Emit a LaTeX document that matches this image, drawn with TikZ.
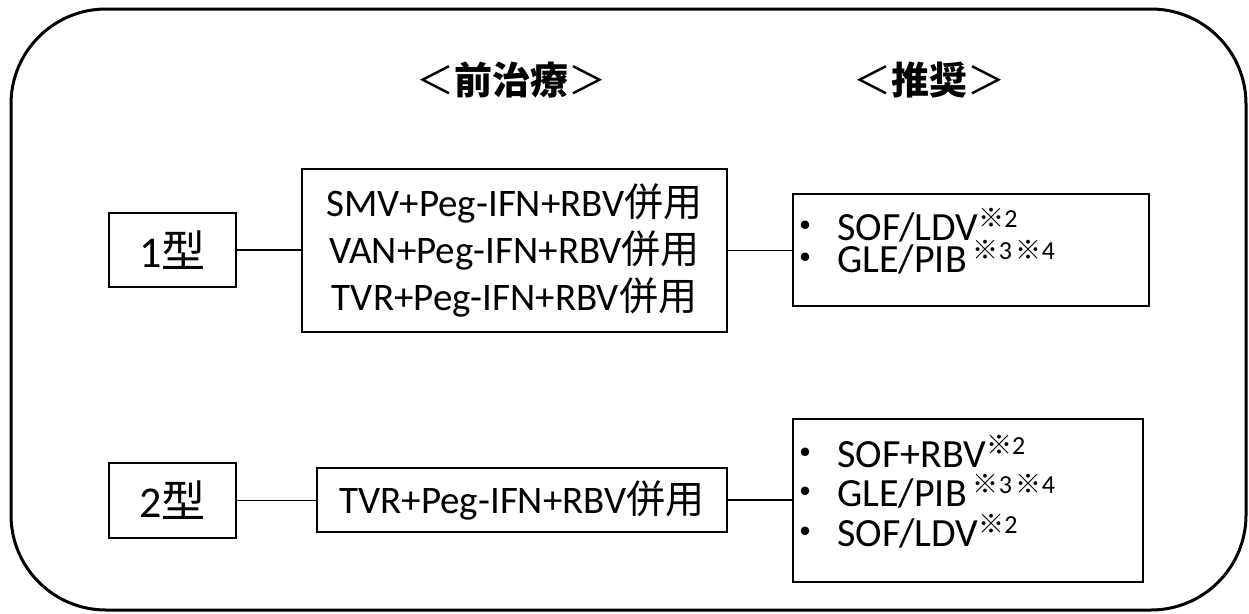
\documentclass[tikz,border=0pt]{standalone}
\usepackage{fontspec}
\setmainfont{Carlito}
\newfontfamily\jp{Noto Sans CJK JP}
\newcommand{\kome}[1]{\raisebox{13pt}{\fontsize{26}{26}\selectfont{\jp ※}#1}}
\newcommand{\bul}{\hspace*{-7pt}{\jp ・}\hspace{12pt}}
\begin{document}
\begin{tikzpicture}[x=1pt,y=-1pt,
  box/.style={draw=black, line width=1.9pt, inner sep=0pt, align=center},
  conn/.style={draw=black, line width=1.9pt},
  body/.style={font={\fontsize{39}{47}\selectfont\lineskiplimit=-100pt}},
  rec1/.style={font={\fontsize{40}{32.5}\selectfont\lineskiplimit=-100pt}, inner sep=0pt, align=left, anchor=west},
  rec2/.style={font={\fontsize{40}{39.5}\selectfont\lineskiplimit=-100pt}, inner sep=0pt, align=left, anchor=west},
  typ/.style={font={\fontsize{44}{44}\selectfont}},
  head/.style={font={\fontsize{38}{38}\selectfont\jp}, inner sep=0pt}]
\useasboundingbox (0,0) rectangle (1249,613);
\node[draw=black, line width=3pt, rounded corners=95pt, minimum width=1235pt, minimum height=601pt, inner sep=0pt] (frame) at (628.5,309.5) {};
\node[head] (h1) at (511,80) {＜{\bfseries 前治療}＞};
\node[head] (h2) at (929,80) {＜{\bfseries 推奨}＞};
\node[box, typ, minimum width=127pt, minimum height=74pt] (t1) at (172.5,250) {1{\jp 型}};
\node[box, body, minimum width=425pt, minimum height=163pt] (p1) at (514.5,250.5)
  {SMV+Peg-IFN+RBV{\jp 併用}\\VAN+Peg-IFN+RBV{\jp 併用}\\TVR+Peg-IFN+RBV{\jp 併用}};
\node[box, minimum width=356pt, minimum height=112pt] (r1) at (971,250) {};
\node[rec1] (r1t) at ([yshift=9pt]r1.west)
  {\bul SOF/LDV\kome{2}\\\bul GLE/PIB\hspace{6pt}\kome{3}\hspace{4pt}\kome{4}};
\node[box, typ, minimum width=127pt, minimum height=75pt] (t2) at (172.5,500.5) {2{\jp 型}};
\node[box, body, minimum width=410pt, minimum height=64pt] (p2) at (522,500)
  {TVR+Peg-IFN+RBV{\jp 併用}};
\node[box, minimum width=350pt, minimum height=163pt] (r2) at (968,500.5) {};
\node[rec2] (r2t) at ([yshift=9pt]r2.west)
  {\bul SOF+RBV\kome{2}\\\bul GLE/PIB\hspace{6pt}\kome{3}\hspace{4pt}\kome{4}\\\bul SOF/LDV\kome{2}};
\draw[conn] (t1.east) -- (t1.east -| p1.west);
\draw[conn] (p1.east) -- (p1.east -| r1.west);
\draw[conn] (t2.east) -- (t2.east -| p2.west);
\draw[conn] (p2.east) -- (p2.east -| r2.west);
\end{tikzpicture}
\end{document}
